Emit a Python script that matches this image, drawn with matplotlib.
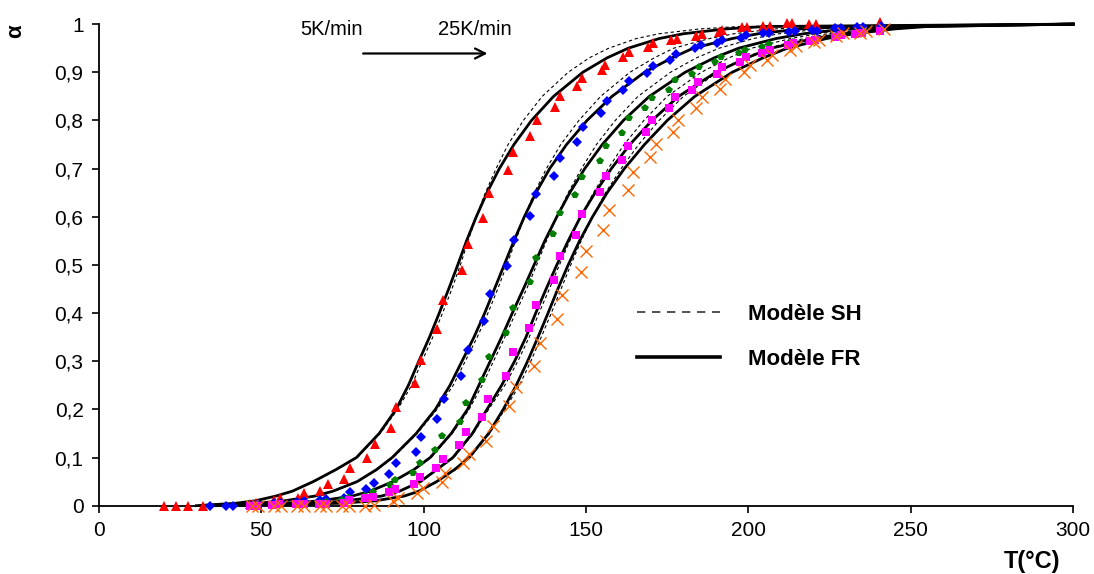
import matplotlib
matplotlib.use("Agg")
import matplotlib.pyplot as plt
from matplotlib.ticker import FuncFormatter, MultipleLocator
from matplotlib.lines import Line2D

plt.rcParams['font.family'] = ['Liberation Sans', 'DejaVu Sans']

# measured points (T in °C, alpha)
T_red = [20.1, 23.8, 27.5, 32.2, 46.5, 48.5, 53.8, 55.9, 61.3, 63.0, 68.0, 70.5, 75.6, 77.2,
         82.4, 85.1, 89.9, 91.6, 97.3, 99.1, 104.0, 105.9, 111.7, 113.5, 118.4, 120.0, 126.0,
         127.5, 132.8, 134.8, 140.5, 142.1, 147.2, 148.8, 154.9, 155.8, 161.5, 163.2, 169.1,
         170.7, 176.3, 177.9, 183.7, 185.6, 190.9, 192.0, 198.0, 199.6, 204.4, 206.7, 211.9,
         213.3, 218.5, 220.9, 240.4]
a_red = [0, 0, 0, 0, 0.004, 0.006, 0.012, 0.015, 0.017, 0.026, 0.031, 0.045, 0.055, 0.078,
         0.098, 0.128, 0.161, 0.204, 0.254, 0.303, 0.367, 0.427, 0.490, 0.543, 0.598, 0.650, 0.697,
         0.734, 0.768, 0.801, 0.827, 0.851, 0.872, 0.888, 0.905, 0.915, 0.932, 0.943, 0.953,
         0.960, 0.966, 0.970, 0.975, 0.979, 0.984, 0.988, 0.993, 0.994, 0.996, 0.996, 1.003,
         1.003, 1.000, 1.000, 1.005]

T_blue = [34.1, 39.2, 41.4, 47.0, 49.0, 54.0, 56.0, 61.0, 63.0, 68.0, 70.0, 75.4, 77.2, 82.2,
          84.6, 89.4, 91.6, 97.5, 99.1, 104.0, 106.2, 111.6, 113.5, 118.6, 120.4, 125.6, 127.9,
          132.6, 134.6, 140.2, 141.9, 147.2, 149.0, 154.7, 156.3, 161.3, 163.2, 168.8, 170.7,
          175.7, 177.7, 183.5, 185.4, 190.4, 192.0, 197.6, 199.2, 204.6, 206.4, 212.4, 214.2,
          219.5, 221.2, 226.5, 228.4, 233.4, 235.3, 240.9]
a_blue = [0, 0, 0, 0.002, 0.003, 0.005, 0.006, 0.008, 0.010, 0.012, 0.014, 0.015, 0.028, 0.035,
          0.048, 0.066, 0.088, 0.112, 0.142, 0.179, 0.221, 0.270, 0.324, 0.383, 0.440, 0.497, 0.552,
          0.602, 0.647, 0.684, 0.721, 0.756, 0.786, 0.815, 0.841, 0.863, 0.882, 0.898, 0.913,
          0.925, 0.938, 0.950, 0.956, 0.961, 0.967, 0.972, 0.977, 0.981, 0.981, 0.984, 0.986,
          0.988, 0.986, 0.991, 0.991, 0.994, 0.993, 0.996]

T_green = [54.0, 56.0, 61.0, 63.0, 68.0, 70.0, 75.0, 77.0, 82.0, 84.3, 89.6, 91.1, 96.8, 98.8,
           103.5, 105.7, 111.2, 112.9, 117.9, 120.2, 125.4, 127.5, 132.6, 134.6, 139.9, 141.9,
           146.6, 148.7, 154.4, 156.0, 161.1, 163.1, 168.3, 170.2, 175.5, 177.3, 182.7, 184.8,
           189.6, 191.4, 197.1, 199.0, 204.1, 206.2, 212.4, 213.7]
a_green = [0.001, 0.002, 0.003, 0.004, 0.006, 0.008, 0.011, 0.015, 0.020, 0.029, 0.043, 0.053,
           0.067, 0.089, 0.116, 0.145, 0.174, 0.214, 0.261, 0.308, 0.358, 0.410, 0.464, 0.514,
           0.565, 0.607, 0.645, 0.683, 0.716, 0.747, 0.774, 0.804, 0.825, 0.846, 0.864, 0.884,
           0.896, 0.911, 0.922, 0.932, 0.940, 0.947, 0.953, 0.958, 0.961, 0.963]

T_mag = [46.4, 48.7, 53.2, 55.4, 60.8, 63.0, 67.8, 70.0, 75.4, 77.0, 82.0, 84.3, 89.4, 91.3,
         97.0, 98.8, 103.7, 105.9, 111.0, 112.9, 118.0, 119.8, 125.4, 127.5, 132.3, 134.5, 140.0,
         141.9, 146.9, 148.7, 154.4, 156.0, 161.1, 162.9, 168.6, 170.4, 175.4, 177.3, 182.7,
         184.6, 190.2, 192.0, 197.4, 199.2, 204.3, 206.7, 212.1, 213.7, 219.0, 220.6, 226.5,
         228.4, 232.9, 235.0, 240.4]
a_mag = [0, 0, 0.001, 0.003, 0.003, 0.003, 0.003, 0.003, 0.006, 0.012, 0.015, 0.019, 0.028, 0.034,
         0.045, 0.060, 0.078, 0.097, 0.125, 0.152, 0.185, 0.222, 0.270, 0.319, 0.369, 0.417, 0.469,
         0.519, 0.563, 0.606, 0.651, 0.685, 0.718, 0.747, 0.775, 0.801, 0.825, 0.848, 0.863,
         0.880, 0.896, 0.911, 0.922, 0.931, 0.939, 0.947, 0.956, 0.961, 0.965, 0.968, 0.974,
         0.977, 0.979, 0.981, 0.986]

T_or = [47.0, 49.0, 54.0, 56.0, 61.0, 63.0, 68.0, 70.0, 75.0, 77.0, 82.0, 84.6, 90.5, 92.1,
        98.0, 99.7, 105.6, 106.7, 112.1, 113.9, 119.3, 121.3, 126.3, 128.3, 134.0, 135.9, 140.9,
        142.6, 148.5, 150.1, 155.1, 157.0, 162.9, 164.5, 169.6, 171.5, 176.8, 178.4, 183.7,
        185.6, 191.2, 192.8, 198.7, 200.5, 205.7, 207.3, 212.9, 214.5, 220.1, 221.7, 227.0,
        229.2, 234.3, 236.1, 241.7]
a_or = [0, 0, 0, 0, 0, 0, 0, 0, 0, 0, 0, 0.002, 0.010, 0.015, 0.026, 0.036, 0.050, 0.067,
        0.088, 0.107, 0.135, 0.166, 0.206, 0.246, 0.290, 0.337, 0.387, 0.437, 0.486, 0.529,
        0.572, 0.615, 0.655, 0.692, 0.724, 0.751, 0.776, 0.801, 0.825, 0.848, 0.866, 0.885,
        0.901, 0.915, 0.925, 0.936, 0.946, 0.954, 0.963, 0.968, 0.975, 0.981, 0.982, 0.986,
        0.989]

# model curves: temperature reached at each conversion level
alpha_lv = [0, 0.005, 0.01, 0.02, 0.03, 0.05, 0.075, 0.1, 0.15, 0.2, 0.25, 0.3, 0.35, 0.4, 0.45,
            0.5, 0.55, 0.6, 0.65, 0.7, 0.75, 0.8, 0.85, 0.9, 0.93, 0.95, 0.97, 0.98, 0.99, 0.995, 1.0]

fr_red = [30, 42, 48, 54.5, 59.5, 66, 73, 79.3, 86.3, 91.5, 95.3, 98.5, 101.8, 104.8, 107.7,
          110.5, 113.2, 116.2, 119.5, 123.3, 127.8, 133.2, 140, 149, 156.5, 163, 172.5, 180, 193, 205, 300]
fr_blue = [32, 48, 57, 66.5, 72, 79.5, 85.5, 90.3, 97.7, 103.6, 108.1, 111.8, 115.5, 118.8, 121.8,
           124.8, 127.8, 131, 134.6, 138.8, 144, 150.3, 158, 168, 176.5, 183, 195, 203, 216, 230, 300]
fr_green = [34, 57, 68, 78, 83.5, 90.5, 97, 102, 108.5, 113.5, 117, 120.5, 124, 127.3, 130.7,
            134, 137.3, 141, 145, 149.6, 155, 161.5, 169.5, 180.5, 189.5, 197, 208.5, 217, 230, 242, 300]
fr_mag = [36, 66, 76, 87, 92.5, 99, 104, 109, 115, 119.5, 124, 128, 131.5, 134.5, 137.7,
          141, 144.5, 148.3, 152.8, 157.8, 163.5, 170.3, 178.5, 190, 199.5, 207, 220, 229, 242, 252, 300]
fr_or = [38, 74, 85, 94, 98.5, 104, 109.5, 114, 120, 124.5, 128.5, 132, 135.2, 138.3, 141.3,
         144.5, 148, 152, 156.5, 161.8, 168, 175, 183.5, 195, 204.5, 212, 224, 232.5, 245, 255, 300]

sh_red = [30, 42.3, 48.3, 54.8, 59.8, 66.3, 73.3, 79.6, 86.6, 92, 96.3, 99.5, 102.8, 105.8, 108.7,
          111.3, 113.7, 116.2, 119, 122.3, 126, 130.7, 136.5, 144.5, 151, 157, 165.5, 172.5, 185, 197, 300]
sh_blue = [32, 48.3, 57.3, 66.8, 72.3, 79.8, 85.8, 90.6, 98, 104.1, 109.1, 112.8, 116.5, 119.8, 122.8,
           125.6, 128.3, 131, 134.1, 137.8, 142.2, 147.8, 154.5, 163.5, 171, 177, 188, 195.5, 208, 222, 300]
sh_green = [34, 57.3, 68.3, 78.3, 83.8, 90.8, 97.3, 102.3, 108.8, 114, 118, 121.5, 125, 128.3, 131.7,
            134.8, 137.8, 141, 144.5, 148.6, 153.2, 159, 166, 176, 184, 191, 201.5, 209.5, 222, 234, 300]
sh_mag = [36, 66.3, 76.3, 87.3, 92.8, 99.3, 104.3, 109.3, 115.3, 120, 125, 129, 132.5, 135.5, 138.7,
          141.8, 145, 148.3, 152.3, 156.8, 161.7, 167.8, 175, 185.5, 194, 201, 213, 221.5, 234, 244, 300]
sh_or = [38, 74.3, 85.3, 94.3, 98.8, 104.3, 109.8, 114.3, 120.3, 125, 129.5, 133, 136.2, 139.3, 142.3,
         145.3, 148.5, 152, 156, 160.8, 166.2, 172.5, 180, 190.5, 199, 206, 217, 225, 237, 247, 300]

fig = plt.figure(figsize=(10.94, 5.74), dpi=100)
ax = fig.add_axes([0.0904, 0.119, 0.8906, 0.839])

for T in [sh_red, sh_blue, sh_green, sh_mag, sh_or]:
    ax.plot(T, alpha_lv, color='black', lw=0.8, dashes=(3, 2.5), zorder=2, clip_on=False)
for T in [fr_red, fr_blue, fr_green, fr_mag, fr_or]:
    ax.plot(T, alpha_lv, color='black', lw=2.0, zorder=2, clip_on=False,
            solid_joinstyle='round')

ax.plot(T_red, a_red, ls='none', marker='^', ms=6.8, color='#FF0000', mew=0, zorder=3, clip_on=False)
ax.plot(T_blue, a_blue, ls='none', marker='D', ms=4.8, color='#0000FF', mew=0, zorder=3, clip_on=False)
ax.plot(T_green, a_green, ls='none', marker='p', ms=6, color='#007F00', mew=0, zorder=3, clip_on=False)
ax.plot(T_mag, a_mag, ls='none', marker='s', ms=5.2, color='#FF00FF', mew=0, zorder=3, clip_on=False)
ax.plot(T_or, a_or, ls='none', marker='x', ms=9, color='#FF6600', mew=1.0, zorder=3, clip_on=False)

ax.set_xlim(0, 300)
ax.set_ylim(0, 1)
ax.spines['top'].set_visible(False)
ax.spines['right'].set_visible(False)
ax.spines['left'].set_linewidth(1.3)
ax.spines['bottom'].set_linewidth(1.3)
ax.xaxis.set_major_locator(MultipleLocator(50))
ax.yaxis.set_major_locator(MultipleLocator(0.1))


def comma(v, pos):
    s = ('%.1f' % v).rstrip('0').rstrip('.')
    return s.replace('.', ',')


ax.yaxis.set_major_formatter(FuncFormatter(comma))
ax.tick_params(direction='out', length=5, width=1.2, labelsize=15, pad=6)

fig.text(0.014, 0.945, 'α', rotation=90, fontsize=16, fontweight='bold', ha='center', va='center')
fig.text(0.969, 0.021, 'T(°C)', fontsize=17, fontweight='bold', ha='right', va='center')

ax.text(62, 0.988, '5K/min', fontsize=14.5, va='center', ha='left')
ax.text(104.5, 0.988, '25K/min', fontsize=14.5, va='center', ha='left')
ax.annotate('', xy=(120.5, 0.939), xytext=(80.5, 0.939),
            arrowprops=dict(arrowstyle='->', color='black', lw=1.6, mutation_scale=18))

handles = [Line2D([], [], color='#333333', lw=1.2, dashes=(5, 4)),
           Line2D([], [], color='black', lw=2.6)]
ax.legend(handles, ['Modèle SH', 'Modèle FR'], frameon=False, loc='upper left',
          bbox_to_anchor=(0.532, 0.46), handlelength=3.74, handletextpad=1.26,
          labelspacing=1.07, prop={'weight': 'bold', 'size': 16})

fig.savefig('out.png', dpi=100)
